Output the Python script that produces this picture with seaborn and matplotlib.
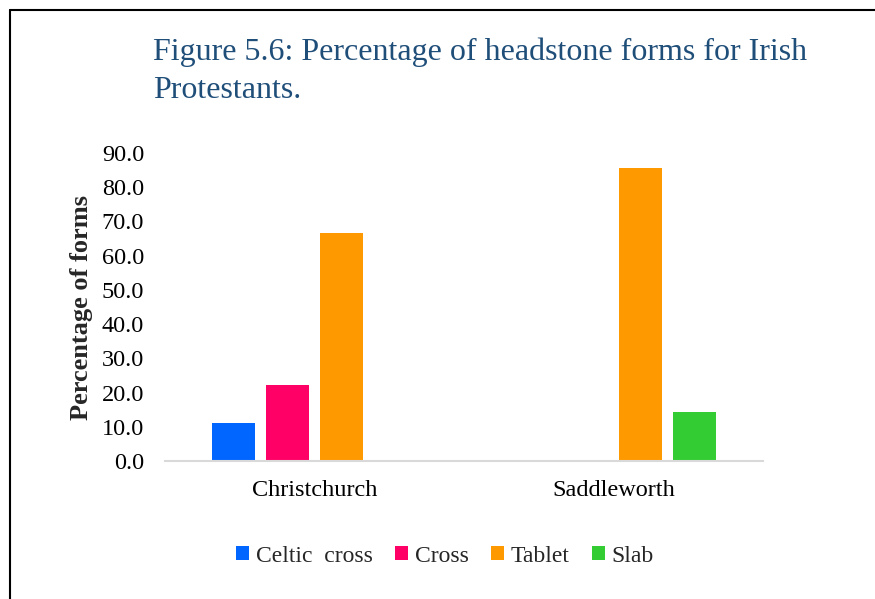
import matplotlib
matplotlib.use("Agg")
import matplotlib.pyplot as plt
from matplotlib.lines import Line2D
import seaborn as sns
import pandas as pd

sites = ["Christchurch", "Saddleworth"]
forms = ["Celtic  cross", "Cross", "Tablet", "Slab"]
christchurch = [11.1, 22.2, 66.7, 0.0]
saddleworth = [0.0, 0.0, 85.7, 14.3]
colors = ["#0066ff", "#ff0066", "#ff9900", "#33cc33"]
yticks = [0, 10, 20, 30, 40, 50, 60, 70, 80, 90]

rows = []
for form, a, b in zip(forms, christchurch, saddleworth):
    rows.append({"site": sites[0], "form": form, "pct": a})
    rows.append({"site": sites[1], "form": form, "pct": b})
df = pd.DataFrame(rows)

sns.set_theme(style="white")
plt.rcParams["font.family"] = ["Liberation Serif", "DejaVu Serif"]

fig = plt.figure(figsize=(8.75, 5.99), dpi=100)
ax = fig.add_axes([165 / 875, 1 - 461 / 599, 598 / 875, 308 / 599])

sns.barplot(data=df, x="site", y="pct", hue="form", order=sites,
            hue_order=forms, palette=colors, width=0.722, gap=0.204,
            saturation=1, ax=ax, legend=True, linewidth=0)

ax.set_ylim(0, 90)
ax.set_xlim(-0.5, 1.5)
ax.set_yticks(yticks)
ax.set_yticklabels([f"{v:.1f}" for v in yticks], fontsize=17.5, color="#000000")
ax.tick_params(axis="x", labelsize=17.5, colors="#000000", pad=14, length=0)
ax.tick_params(axis="y", length=0, pad=15)
ax.set_xlabel("")
ax.set_ylabel("Percentage of forms", fontsize=19, fontweight="bold", labelpad=6)
for side in ["top", "right", "left"]:
    ax.spines[side].set_visible(False)
ax.spines["bottom"].set_color("#d9d9d9")
ax.spines["bottom"].set_linewidth(1.5)

handles, labels = ax.get_legend_handles_labels()
ax.get_legend().remove()
fig.legend(handles, labels, loc="center", bbox_to_anchor=(445 / 875, 1 - 556 / 599),
           ncol=4, frameon=False, fontsize=17, handlelength=0.55, handleheight=0.55,
           handletextpad=0.3, columnspacing=0.93)

fig.text(153 / 875, 1 - 71 / 599, "Figure 5.6: Percentage of headstone forms for Irish\nProtestants.",
         fontsize=23, color="#1f4e79", ha="left", va="center", linespacing=1.4)

fig.add_artist(Line2D([10 / 875, 10 / 875], [0, 1 - 9.5 / 599], transform=fig.transFigure,
                      color="black", linewidth=1.5))
fig.add_artist(Line2D([10 / 875, 1], [1 - 9.5 / 599, 1 - 9.5 / 599], transform=fig.transFigure,
                      color="black", linewidth=1.5))

fig.savefig("out.png", dpi=100)
